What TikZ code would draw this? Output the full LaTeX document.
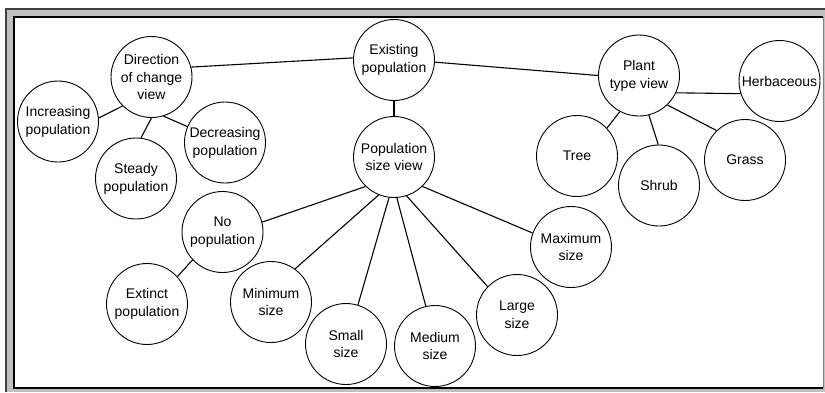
\documentclass[tikz,border=0pt]{standalone}
\usepackage{fontspec}
\setmainfont{Liberation Sans}
\definecolor{panelgray}{HTML}{C0C0C0}
\definecolor{edgegray}{HTML}{404040}
\begin{document}
\begin{tikzpicture}[x=1pt,y=-1pt,
  bubble/.style={circle, draw, line width=0.9pt, minimum size=81pt, inner sep=0pt,
    align=center, font=\fontsize{14}{17.8}\selectfont},
  link/.style={line width=1.1pt}]
\useasboundingbox (0,0) rectangle (825,392);

% sunken window frame
\fill[panelgray] (6,9) rectangle (825,392);
\draw[edgegray, line width=1.5pt] (6,392) -- (6,9) -- (825,9);
\fill[white] (14,17) rectangle (823,388);
\draw[black, line width=1.2pt] (823,388) -- (14,388) -- (14,17) -- (823,17);
\draw[gray, line width=1pt] (823.5,17) -- (823.5,388);

% concept nodes
\node[bubble] (exist)   at (394,60)    {Existing\\population};
\node[bubble] (dir)     at (151.5,77)  {Direction\\of change\\view};
\node[bubble] (incr)    at (58,121.5)  {Increasing\\population};
\node[bubble] (steady)  at (136,178.5) {Steady\\population};
\node[bubble] (decr)    at (225,142.5) {Decreasing\\population};
\node[bubble] (plant)   at (639,75.5)  {Plant\\type view};
\node[bubble] (herb)    at (779.5,81)  {Herbaceous};
\node[bubble] (tree)    at (577,156)   {Tree};
\node[bubble] (shrub)   at (659,185.5) {Shrub};
\node[bubble] (grass)   at (745,160)   {Grass};
\node[bubble] (popsize) at (394,157)   {Population\\size view};
\node[bubble] (nopop)   at (222.5,232) {No\\population};
\node[bubble] (extinct) at (147,304)   {Extinct\\population};
\node[bubble] (minsize) at (271,302)   {Minimum\\size};
\node[bubble] (small)   at (346,344)   {Small\\size};
\node[bubble] (medium)  at (435,346)   {Medium\\size};
\node[bubble] (large)   at (517,315)   {Large\\size};
\node[bubble] (maxsize) at (571,247)   {Maximum\\size};

% connectors
\draw[link] (dir.14.5) -- (exist.177);
\draw[link] (exist.-3) -- (plant.180);
\draw[link] (exist.-90) -- (popsize.90);
\draw[link] (dir.-135) -- (incr.5);
\draw[link] (dir.-90) -- (steady.83);
\draw[link] (dir.-73) -- (decr.157);
\draw[link] (plant.-25) -- (herb.-162);
\draw[link] (plant.-118) -- (tree.43);
\draw[link] (plant.-76) -- (shrub.91);
\draw[link] (plant.-46) -- (grass.134);
\draw[link] (popsize.-134) -- (nopop.14);
\draw[link] (popsize.-112) -- (minsize.54);
\draw[link] (popsize.-97) -- (small.73);
\draw[link] (popsize.-86) -- (medium.103);
\draw[link] (popsize.-72) -- (large.136);
\draw[link] (popsize.-46) -- (maxsize.160);
\draw[link] (nopop.-137) -- (extinct.42);
\end{tikzpicture}
\end{document}
